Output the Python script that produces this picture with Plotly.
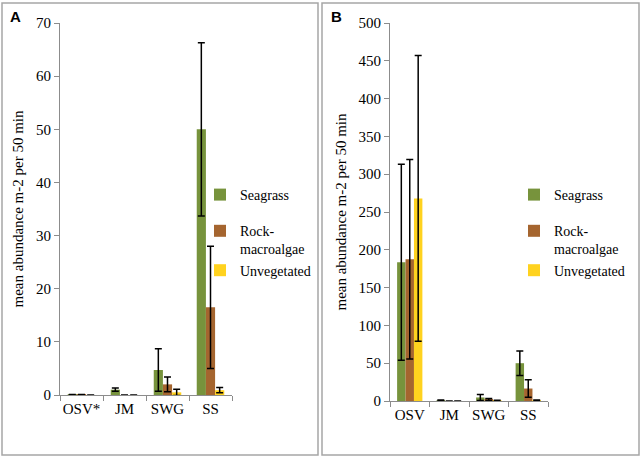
import plotly.graph_objects as go

W, H = 643, 459

# panel A
categoriesA = ["OSV*", "JM", "SWG", "SS"]
seagrassA = [0.1, 1.0, 4.7, 50.0]
seagrassErrA = [None, 0.3, 4.0, 16.3]
rockA = [0.1, 0, 2.0, 16.5]
rockErrA = [None, None, 1.4, 11.5]
unvegA = [0, 0, 0.5, 0.9]
unvegErrA = [None, None, 0.6, 0.5]

# panel B
categoriesB = ["OSV", "JM", "SWG", "SS"]
seagrassB = [183.5, 1.0, 4.7, 50.0]
seagrassErrB = [129.5, 0.3, 4.0, 16.3]
rockB = [187.5, 0, 2.0, 16.5]
rockErrB = [132, None, 1.4, 11.5]
unvegB = [268, 0, 0.5, 0.9]
unvegErrB = [189, None, 0.6, 0.5]

seriesNames = ["Seagrass", "Rock-<br>macroalgae", "Unvegetated"]
colors = ["#77933C", "#A5652F", "#FFD21F"]
serif = "Liberation Serif, Times New Roman, serif"

def px(x):
    return x / W

def py(y):
    return 1 - y / H

fig = go.Figure()

panels = [
    (categoriesA, [seagrassA, rockA, unvegA], [seagrassErrA, rockErrA, unvegErrA], "x", "y", "legend"),
    (categoriesB, [seagrassB, rockB, unvegB], [seagrassErrB, rockErrB, unvegErrB], "x2", "y2", "legend2"),
]
for cats, vals, errs, xa, ya, leg in panels:
    for i in range(3):
        fig.add_trace(go.Bar(
            x=cats, y=vals[i], name=seriesNames[i],
            marker=dict(color=colors[i], line=dict(width=0)),
            error_y=dict(type="data", array=errs[i], color="black", thickness=1.5, width=3.5),
            xaxis=xa, yaxis=ya, legend=leg,
            legendgroup="g1" if i == 0 else "g2",
        ))

axisX = dict(showline=True, linecolor="#8c8c8c", linewidth=1, ticks="outside", tickson="boundaries",
             ticklen=5, tickcolor="#8c8c8c", showgrid=False, zeroline=False, tickangle=0, automargin=False,
             tickfont=dict(family=serif, size=15, color="black"))
axisY = dict(showline=True, linecolor="#8c8c8c", linewidth=1, ticks="outside", ticklen=5,
             tickcolor="#8c8c8c", showgrid=False, zeroline=False, automargin=False,
             tickfont=dict(family=serif, size=15, color="black"),
             title=dict(text="mean abundance m-2 per 50 min", font=dict(family=serif, size=15, color="black"), standoff=8))

legendStyle = dict(font=dict(family=serif, size=14, color="black"), bgcolor="rgba(0,0,0,0)",
                   traceorder="grouped", tracegroupgap=15, itemwidth=30, valign="top",
                   xanchor="left", yanchor="top", itemclick=False)

fig.update_layout(
    width=W, height=H, margin=dict(l=0, r=0, t=0, b=0, autoexpand=False),
    paper_bgcolor="white", plot_bgcolor="white",
    barmode="group", bargap=0.36, bargroupgap=0,
    xaxis=dict(axisX, domain=[px(60), px(232)], anchor="y"),
    yaxis=dict(axisY, domain=[py(395), py(23)], anchor="x", range=[0, 70], dtick=10),
    xaxis2=dict(axisX, domain=[px(390), px(548)], anchor="y2"),
    yaxis2=dict(axisY, domain=[py(401), py(23)], anchor="x2", range=[0, 500], dtick=50),
    legend=dict(legendStyle, x=px(200), y=py(179)),
    legend2=dict(legendStyle, x=px(514), y=py(179)),
    shapes=[
        dict(type="rect", xref="paper", yref="paper", x0=px(2), x1=px(318), y0=py(455), y1=py(3),
             line=dict(color="#a6a6a6", width=1.5)),
        dict(type="rect", xref="paper", yref="paper", x0=px(322), x1=px(639), y0=py(455), y1=py(3),
             line=dict(color="#a6a6a6", width=1.5)),
    ],
    annotations=[
        dict(text="<b>A</b>", xref="paper", yref="paper", x=px(8), y=py(6), xanchor="left", yanchor="top",
             showarrow=False, font=dict(family="Liberation Sans", size=15, color="black")),
        dict(text="<b>B</b>", xref="paper", yref="paper", x=px(329), y=py(6), xanchor="left", yanchor="top",
             showarrow=False, font=dict(family="Liberation Sans", size=15, color="black")),
    ],
)

fig.write_html("out.html", config={"displayModeBar": False},
               post_script="document.body.style.margin='0px';")
